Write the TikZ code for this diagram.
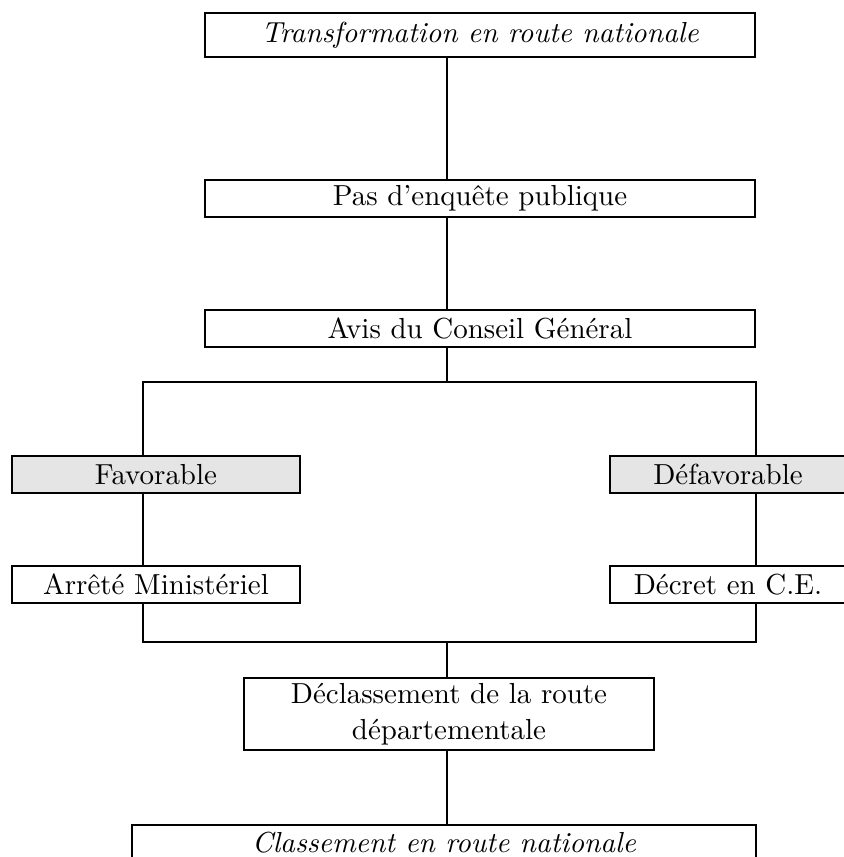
\documentclass[tikz,border=0pt]{standalone}
\usepackage{fontspec}
\usetikzlibrary{positioning,calc}
\tikzset{%
    % boxes of the procedure
    etape/.style = {
        rectangle, draw=black, line width=0.55pt, inner sep=0pt,
        text centered, align=center,
        font=\fontsize{10.3}{12.8}\selectfont
    },
    choix/.style = {etape, fill=gray!20},
    lien/.style = {line width=0.55pt}
}
\begin{document}
\begin{tikzpicture}[x=0.0125cm, y=-0.0125cm]
    \useasboundingbox (0,0) rectangle (844,857);
    \clip (0,0) rectangle (844,857);
    \node[etape, minimum width=6.875cm, minimum height=0.55cm] (transfo) at (480,35) {\itshape Transformation en route nationale};
    \node[etape, minimum width=6.875cm, minimum height=0.4625cm] (enquete) at (480,198.5) {Pas d’enquête publique};
    \node[etape, minimum width=6.875cm, minimum height=0.4625cm] (avis) at (480,328.5) {Avis du Conseil Général};
    \node[choix, minimum width=3.6cm, minimum height=0.4625cm] (fav) at (156,474.5) {Favorable};
    \node[choix, minimum width=2.95cm, minimum height=0.4625cm] (defav) at (728,474.5) {Défavorable};
    \node[etape, minimum width=3.6cm, minimum height=0.4625cm] (arrete) at (156,584.5) {Arrêté Ministériel};
    \node[etape, minimum width=2.95cm, minimum height=0.4625cm] (decret) at (728,584.5) {Décret en C.E.};
    \node[etape, minimum width=5.125cm, minimum height=0.9cm] (declass) at (449,714) {Déclassement de la route\\départementale};
    \node[etape, minimum width=7.8cm, minimum height=0.4375cm] (classe) at (444,842.5) {\itshape Classement en route nationale};

    \coordinate (axe) at (447,0);
    \coordinate (brG) at (143,382);
    \coordinate (brD) at (756,382);
    \coordinate (jnG) at (143,642);
    \coordinate (jnD) at (756,642);

    \draw[lien] (transfo.south -| axe) -- (enquete.north -| axe);
    \draw[lien] (enquete.south -| axe) -- (avis.north -| axe);
    \draw[lien] (avis.south -| axe) -- (axe |- brG);
    \draw[lien] (fav.north -| brG) -- (brG) -- (brD) -- (defav.north -| brD);
    \draw[lien] (fav.south -| brG) -- (arrete.north -| brG);
    \draw[lien] (defav.south -| brD) -- (decret.north -| brD);
    \draw[lien] (arrete.south -| jnG) -- (jnG) -- (jnD) -- (decret.south -| jnD);
    \draw[lien] (axe |- jnG) -- (declass.north -| axe);
    \draw[lien] (declass.south -| axe) -- (classe.north -| axe);
\end{tikzpicture}
\end{document}
